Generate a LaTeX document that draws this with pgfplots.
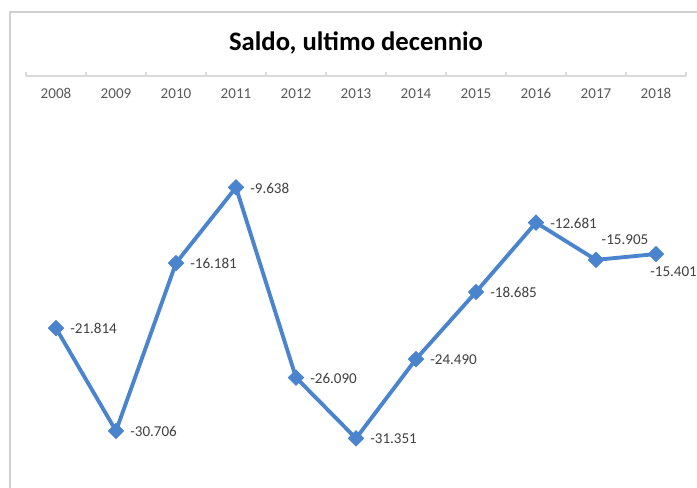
\documentclass[border=0pt]{standalone}
\usepackage{pgfplots}
\pgfplotsset{compat=1.18}
\usepackage{fontspec}
\setmainfont{Carlito}
\definecolor{lineblue}{RGB}{74,132,206}
\definecolor{framegray}{RGB}{208,208,208}
\definecolor{axisgray}{RGB}{217,217,217}
\definecolor{ticktext}{RGB}{89,89,89}
\definecolor{labeltext}{RGB}{64,64,64}
\begin{document}
\begin{tikzpicture}
\useasboundingbox (0,0) rectangle (522.75pt,-366pt);
\clip (0,0) rectangle (522.75pt,-366pt);
\draw[framegray, line width=1.1pt] (7.5pt,-9pt) rectangle (560pt,-400pt);
\begin{axis}[
  at={(19.5pt,-57pt)}, anchor=north west,
  scale only axis, width=495pt, height=303.45pt,
  xmin=-0.5, xmax=10.5, ymin=-35, ymax=0,
  clip=false,
  axis x line=top,
  axis y line=none,
  axis line style={axisgray, line width=0.8pt, -},
  xtick={0,...,10},
  xticklabels={2008,2009,2010,2011,2012,2013,2014,2015,2016,2017,2018},
  major tick length=0pt,
  minor xtick={-0.5,0.5,...,10.5},
  minor tick length=3pt,
  tick align=outside,
  every minor tick/.style={axisgray, line width=0.8pt},
  xticklabel style={anchor=north, yshift=-9pt, font=\fontsize{11.3}{13}\selectfont, text=ticktext, inner sep=0pt},
  title={Saldo, ultimo decennio},
  title style={at={(0.5,1)}, anchor=center, yshift=18.5pt, font=\fontsize{20}{23}\bfseries\selectfont, inner sep=0pt},
  every node near coord/.append style={inner sep=0pt, text=labeltext, font=\fontsize{11.3}{13}\selectfont},
]
\addplot[
  color=lineblue, line width=2.9pt,
  mark=square*, mark size=4.1pt,
  mark options={rotate=45, solid, fill=lineblue, draw=lineblue, line width=0.5pt},
] coordinates {
  (0,-21.814) (1,-30.706) (2,-16.181) (3,-9.638) (4,-26.090) (5,-31.351)
  (6,-24.490) (7,-18.685) (8,-12.681) (9,-15.905) (10,-15.401)
};
\addplot[draw=none, mark=none, point meta=explicit symbolic, nodes near coords,
  nodes near coords style={anchor=west, xshift=10.5pt, yshift=-0.5pt}]
coordinates {
  (0,-21.814)[-21.814] (1,-30.706)[-30.706] (2,-16.181)[-16.181] (3,-9.638)[-9.638]
  (4,-26.090)[-26.090] (5,-31.351)[-31.351] (6,-24.490)[-24.490] (7,-18.685)[-18.685]
  (8,-12.681)[-12.681]
};
\addplot[draw=none, mark=none, point meta=explicit symbolic, nodes near coords,
  nodes near coords style={anchor=center, xshift=21.75pt, yshift=15pt}]
coordinates {(9,-15.905)[-15.905]};
\addplot[draw=none, mark=none, point meta=explicit symbolic, nodes near coords,
  nodes near coords style={anchor=west, xshift=-4.5pt, yshift=-13.5pt}]
coordinates {(10,-15.401)[-15.401]};
\end{axis}
\end{tikzpicture}
\end{document}
